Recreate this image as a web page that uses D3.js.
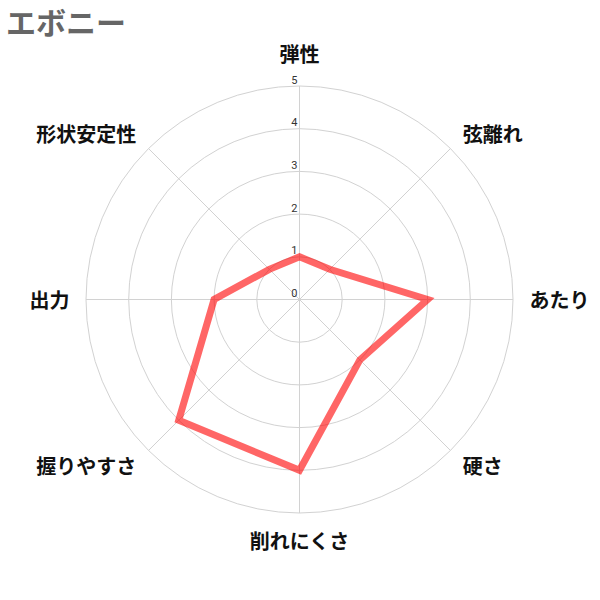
<!DOCTYPE html>
<html lang="ja">
<head>
    <meta charset="UTF-8">
    <title>エボニー</title>
    <script src="https://cdnjs.cloudflare.com/ajax/libs/d3/7.9.0/d3.min.js"></script>
    <style>
        body { margin: 0; background: white; }
        svg { display: block; font-family: "Noto Sans CJK JP", "Noto Sans", sans-serif; }
    </style>
</head>
<body>
    <svg width="600" height="600"></svg>
    <script>
        // データ
        const title = "エボニー";
        const axes = ["弾性", "弦離れ", "あたり", "硬さ", "削れにくさ", "握りやすさ", "出力", "形状安定性"];
        const values = [1, 1, 3, 2, 4, 4, 2, 1];
        const ticks = [0, 1, 2, 3, 4, 5];

        const svg = d3.select("svg");
        const cx = 299.5, cy = 299.5;
        const r = d3.scaleLinear().domain([0, 5]).range([0, 213.5]);
        const angle = d3.scaleLinear().domain([0, axes.length]).range([0, 2 * Math.PI]);

        svg.append("text")
            .attr("x", 6)
            .attr("y", 21)
            .attr("dominant-baseline", "central")
            .attr("font-size", 30)
            .attr("font-weight", "bold")
            .attr("fill", "#666")
            .text(title);

        const g = svg.append("g").attr("transform", `translate(${cx},${cy})`);

        // 同心円
        g.selectAll(".grid")
            .data(ticks.filter(t => t > 0))
            .enter().append("circle")
            .attr("class", "grid")
            .attr("r", d => r(d))
            .attr("fill", "none")
            .attr("stroke", "#d2d2d2")
            .attr("stroke-width", 1);

        // 軸線
        g.selectAll(".spoke")
            .data(axes)
            .enter().append("line")
            .attr("class", "spoke")
            .attr("x1", 0).attr("y1", 0)
            .attr("x2", (d, i) => r(5) * Math.sin(angle(i)))
            .attr("y2", (d, i) => -r(5) * Math.cos(angle(i)))
            .attr("stroke", "#d2d2d2")
            .attr("stroke-width", 1);

        // 目盛り
        g.selectAll(".tick")
            .data(ticks)
            .enter().append("text")
            .attr("class", "tick")
            .attr("x", -2)
            .attr("y", d => -r(d) - 6)
            .attr("text-anchor", "end")
            .attr("dominant-baseline", "central")
            .attr("font-family", "Roboto, sans-serif")
            .attr("font-size", 11)
            .attr("fill", "#333")
            .text(d => d);

        // データ線
        const line = d3.lineRadial()
            .angle((d, i) => angle(i))
            .radius(d => r(d))
            .curve(d3.curveLinearClosed);

        g.append("path")
            .datum(values)
            .attr("d", line)
            .attr("fill", "none")
            .attr("stroke", "rgba(255,0,0,0.6)")
            .attr("stroke-width", 7)
            .attr("stroke-linejoin", "miter");

        // 軸ラベル
        g.selectAll(".label")
            .data(axes)
            .enter().append("text")
            .attr("class", "label")
            .attr("x", (d, i) => {
                const s = Math.sin(angle(i));
                return Math.abs(s) < 0.01 ? 0 : s * (Math.abs(s) > 0.99 ? 230 : 231);
            })
            .attr("y", (d, i) => {
                const c = Math.cos(angle(i));
                if (Math.abs(c) > 0.99) return c > 0 ? -246 : 241;
                return -c * 235;
            })
            .attr("text-anchor", (d, i) => {
                const s = Math.sin(angle(i));
                return Math.abs(s) < 0.01 ? "middle" : (s > 0 ? "start" : "end");
            })
            .attr("dominant-baseline", "central")
            .attr("font-size", 20)
            .attr("font-weight", "bold")
            .attr("fill", "#111")
            .text(d => d);
    </script>
</body>
</html>
